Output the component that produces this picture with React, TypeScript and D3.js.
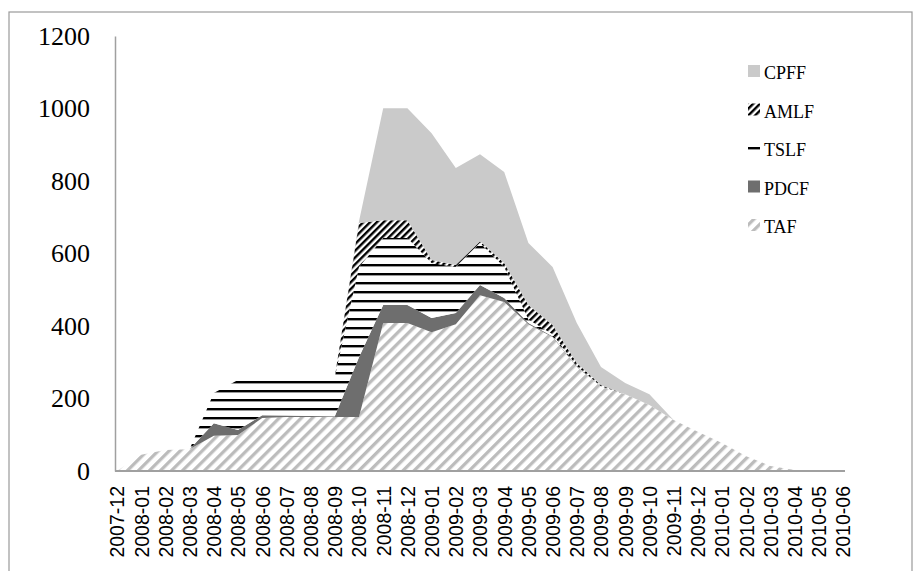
import React, { useEffect, useRef } from 'react';
import * as d3 from 'd3';

const months = [
  '2007-12', '2008-01', '2008-02', '2008-03', '2008-04', '2008-05', '2008-06', '2008-07',
  '2008-08', '2008-09', '2008-10', '2008-11', '2008-12', '2009-01', '2009-02', '2009-03',
  '2009-04', '2009-05', '2009-06', '2009-07', '2009-08', '2009-09', '2009-10', '2009-11',
  '2009-12', '2010-01', '2010-02', '2010-03', '2010-04', '2010-05', '2010-06',
];

const taf = [0, 45, 58, 60, 97, 99, 146, 149, 149, 149, 149, 408, 408, 383, 405, 485, 466, 405, 370, 287, 234, 212, 182, 141, 108, 77, 41, 14, 3, 0, 0];
const pdcf = [0, 0, 0, 0, 35, 14, 8, 4, 3, 2, 165, 50, 50, 39, 31, 28, 11, 3, 2, 1, 0, 0, 0, 0, 0, 0, 0, 0, 0, 0, 0];
const tslf = [0, 0, 0, 0, 83, 138, 105, 107, 109, 108, 249, 185, 185, 152, 127, 116, 86, 10, 5, 2, 0, 0, 0, 0, 0, 0, 0, 0, 0, 0, 0];
const amlf = [0, 0, 0, 0, 0, 0, 0, 0, 0, 0, 121, 49, 49, 8, 5, 5, 11, 40, 26, 8, 3, 0, 0, 0, 0, 0, 0, 0, 0, 0, 0];
const cpff = [0, 0, 0, 0, 0, 0, 0, 0, 0, 0, 5, 309, 309, 350, 268, 240, 251, 171, 160, 110, 50, 31, 30, 0, 0, 0, 0, 0, 0, 0, 0];

const yTicks = [0, 200, 400, 600, 800, 1000, 1200];
const keys = ['TAF', 'PDCF', 'TSLF', 'AMLF', 'CPFF'];
const legendOrder = ['CPFF', 'AMLF', 'TSLF', 'PDCF', 'TAF'];

export default function App() {
  const svgRef = useRef<SVGSVGElement>(null);

  useEffect(() => {
    if (!svgRef.current) return;

    const rows = months.map((m, i) => ({
      month: m,
      TAF: taf[i],
      PDCF: pdcf[i],
      TSLF: tslf[i],
      AMLF: amlf[i],
      CPFF: cpff[i],
    }));

    const svg = d3.select(svgRef.current);
    svg.selectAll('*').remove();

    // fill patterns
    const defs = svg.append('defs');
    const diag = (id: string, w: number, t: number, color: string) => {
      const p = defs.append('pattern')
        .attr('id', id)
        .attr('patternUnits', 'userSpaceOnUse')
        .attr('width', w)
        .attr('height', w)
        .attr('patternTransform', 'rotate(45)');
      p.append('rect').attr('width', w).attr('height', w).attr('fill', '#fff');
      p.append('rect').attr('width', t).attr('height', w).attr('fill', color);
    };
    diag('taf-pat', 7.8, 3.3, '#bcbcbc');
    diag('amlf-pat', 4.8, 2.4, '#000');
    const h = defs.append('pattern')
      .attr('id', 'tslf-pat')
      .attr('patternUnits', 'userSpaceOnUse')
      .attr('width', 10)
      .attr('height', 9);
    h.append('rect').attr('width', 10).attr('height', 9).attr('fill', '#fff');
    h.append('rect').attr('y', 3).attr('width', 10).attr('height', 2.4).attr('fill', '#000');

    const fills: Record<string, string> = {
      TAF: 'url(#taf-pat)',
      PDCF: '#6e6e6e',
      TSLF: 'url(#tslf-pat)',
      AMLF: 'url(#amlf-pat)',
      CPFF: '#cacaca',
    };

    // outer frame
    svg.append('rect')
      .attr('x', 9).attr('y', 12)
      .attr('width', 903).attr('height', 580)
      .attr('fill', 'none')
      .attr('stroke', '#9a9a9a')
      .attr('stroke-width', 1.2);

    const x = d3.scalePoint<string>().domain(months).range([117, 843]);
    const y = d3.scaleLinear().domain([0, 1200]).range([471, 36]);

    const series = d3.stack<any>().keys(keys)(rows);
    const area = d3.area<any>()
      .x(d => x(d.data.month)!)
      .y0(d => y(d[0]))
      .y1(d => y(d[1]));

    svg.append('g')
      .selectAll('path')
      .data(series)
      .enter()
      .append('path')
      .attr('d', area)
      .attr('fill', d => fills[d.key]);

    // y axis
    const yAxis = svg.append('g')
      .attr('transform', 'translate(115,0)')
      .call(d3.axisLeft(y).tickValues(yTicks).tickFormat(d3.format('d')).tickSize(0).tickPadding(25));
    yAxis.select('.domain').attr('stroke', '#a0a0a0').attr('stroke-width', 1.5);
    yAxis.selectAll('text')
      .style('font-family', "'Liberation Serif', 'DejaVu Serif', serif")
      .style('font-size', '26px')
      .style('fill', '#000');

    // x axis
    const xAxis = svg.append('g')
      .attr('transform', 'translate(0,471)')
      .call(d3.axisBottom(x).tickSize(0).tickSizeOuter(0));
    xAxis.select('.domain').remove();
    svg.append('line')
      .attr('x1', 115).attr('x2', 845)
      .attr('y1', 471).attr('y2', 471)
      .attr('stroke', '#a0a0a0')
      .attr('stroke-width', 2);
    xAxis.selectAll('text')
      .attr('transform', 'rotate(-90)')
      .attr('text-anchor', 'end')
      .attr('x', -15)
      .attr('y', 0)
      .attr('dy', '0.35em')
      .style('font-family', "'Liberation Sans', Arial, sans-serif")
      .style('font-size', '19.5px')
      .style('fill', '#000');

    // legend
    const legend = svg.append('g');
    legendOrder.forEach((k, i) => {
      const cy = 73 + i * 38.5;
      legend.append('rect')
        .attr('x', 748).attr('y', cy - 8)
        .attr('width', 12).attr('height', 12)
        .attr('fill', fills[k]);
      legend.append('text')
        .attr('x', 764).attr('y', cy)
        .attr('dy', '0.35em')
        .text(k)
        .style('font-family', "'Liberation Serif', 'DejaVu Serif', serif")
        .style('font-size', '18px')
        .style('fill', '#000');
    });
  }, []);

  return (
    <svg
      ref={svgRef}
      width={914}
      height={571}
      style={{ position: 'absolute', left: 0, top: 0, background: '#fff' }}
    />
  );
}
